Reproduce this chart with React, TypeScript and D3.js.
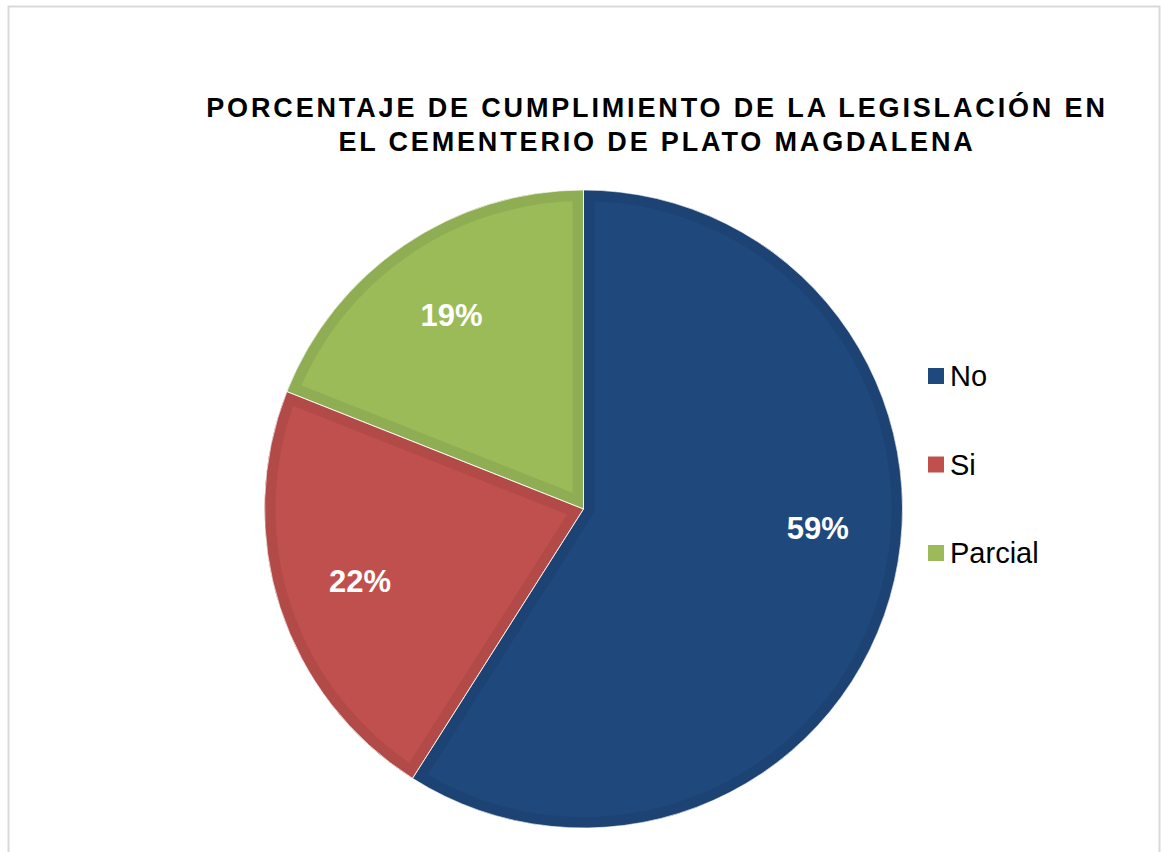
import React from "react";
import * as d3 from "d3";

const categories = ["No", "Si", "Parcial"];
const values = [59, 22, 19];
const colors = ["#1F497D", "#C0504D", "#9BBB59"];
const titleLines = [
  "PORCENTAJE DE CUMPLIMIENTO DE LA LEGISLACIÓN EN",
  "EL CEMENTERIO DE PLATO MAGDALENA",
];

const W = 1165;
const H = 852;
const cx = 583.5;
const cy = 509;
const R = 319;
const labelR = 235;
const labelAngleShift = [-0.2, 0, 0];

export default function App() {
  const pie = d3.pie<number>().sort(null).value((d) => d);
  const arcs = pie(values);
  const arc = d3.arc<d3.PieArcDatum<number>>().innerRadius(0).outerRadius(R);
  const font = "Liberation Sans, Arial, sans-serif";
  const legendY = d3.scalePoint<string>().domain(categories).range([376, 553]);

  return (
    <svg
      width={W}
      height={H}
      style={{ position: "absolute", left: 0, top: 0, background: "#fff" }}
      fontFamily={font}
    >
      <rect x={8.5} y={6.5} width={1151} height={900} fill="#fff" stroke="#d9d9d9" strokeWidth={2} />
      {titleLines.map((t, i) => (
        <text
          key={i}
          x={657}
          y={117 + i * 34}
          textAnchor="middle"
          fontSize={27}
          fontWeight="bold"
          letterSpacing={2.85}
          fill="#000"
        >
          {t}
        </text>
      ))}
      <g transform={`translate(${cx},${cy})`}>
        <defs>
          {arcs.map((a, i) => (
            <clipPath id={`clip${i}`} key={i}>
              <path d={arc(a) || ""} />
            </clipPath>
          ))}
        </defs>
        {arcs.map((a, i) => (
          <g key={i}>
            <path d={arc(a) || ""} fill={colors[i]} />
            <path
              d={arc(a) || ""}
              fill="none"
              stroke={d3.color(colors[i])!.darker(0.22).toString()}
              strokeWidth={22}
              strokeLinejoin="miter"
              clipPath={`url(#clip${i})`}
            />
          </g>
        ))}
        {arcs.map((a, i) => (
          <path key={i} d={arc(a) || ""} fill="none" stroke="#fff" strokeOpacity={0.7} strokeWidth={1} />
        ))}
        {arcs.map((a, i) => {
          const ang = (a.startAngle + a.endAngle) / 2 + labelAngleShift[i];
          const x = labelR * Math.sin(ang);
          const y = -labelR * Math.cos(ang);
          return (
            <text
              key={i}
              x={x}
              y={y}
              dy="0.35em"
              textAnchor="middle"
              fontSize={31}
              fontWeight="bold"
              fill="#fff"
            >
              {Math.round((a.value / d3.sum(values)) * 100)}%
            </text>
          );
        })}
      </g>
      {categories.map((c, i) => (
        <g key={c} transform={`translate(928,${legendY(c)})`}>
          <rect x={0} y={-8} width={16} height={16} fill={colors[i]} />
          <text x={22} y={0} dy="0.35em" fontSize={29} fill="#000">
            {c}
          </text>
        </g>
      ))}
    </svg>
  );
}
